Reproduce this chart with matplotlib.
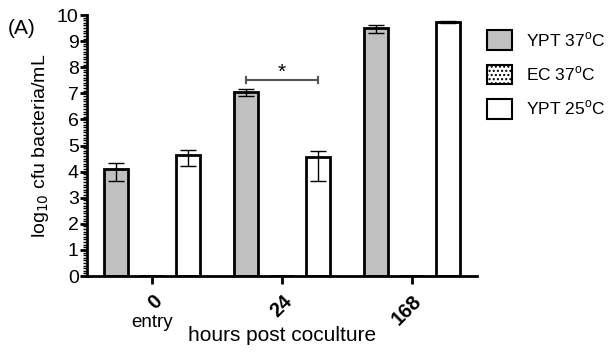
import numpy as np
import matplotlib
matplotlib.use("Agg")
import matplotlib.pyplot as plt
from matplotlib.patches import Patch
from matplotlib.ticker import MultipleLocator

plt.rcParams['font.family'] = ['Liberation Sans', 'DejaVu Sans']

# data
hours = ['0', '24', '168']
series = ['YPT 37$^{\\mathregular{o}}$C', 'EC 37$^{\\mathregular{o}}$C', 'YPT 25$^{\\mathregular{o}}$C']
ypt37 = [4.10, 7.06, 9.49]
ypt37_lo = [0.45, 0.16, 0.16]
ypt37_hi = [0.23, 0.09, 0.14]
ec37 = [0, 0, 0]
ypt25 = [4.64, 4.55, 9.74]
ypt25_lo = [0.43, 0.91, 0.04]
ypt25_hi = [0.19, 0.25, 0.04]

fig = plt.figure(figsize=(6.11, 3.55), dpi=100)
ax = fig.add_axes([0.1424, 0.2225, 0.6386, 0.7352])

x = np.arange(len(hours))
w = 0.185
err_kw = dict(ecolor='black', capsize=6, elinewidth=1.0, capthick=1.0)
ax.bar(x - 0.277, ypt37, w, color='#c0c0c0', edgecolor='black', linewidth=2,
       yerr=[ypt37_lo, ypt37_hi], error_kw=err_kw, zorder=2)
ax.bar(x, ec37, w, color='white', edgecolor='black', hatch='....', linewidth=2, zorder=2)
ax.bar(x + 0.277, ypt25, w, color='white', edgecolor='black', linewidth=2,
       yerr=[ypt25_lo, ypt25_hi], error_kw=err_kw, zorder=2)

# significance bracket
ax.plot([1 - 0.277, 1 + 0.277], [7.5, 7.5], color='#555555', lw=1.5)
ax.plot([1 - 0.277, 1 - 0.277], [7.38, 7.62], color='#555555', lw=1.5)
ax.plot([1 + 0.277, 1 + 0.277], [7.38, 7.62], color='#555555', lw=1.5)
ax.text(1, 7.45, '*', ha='center', va='bottom', fontsize=15)

ax.set_xlim(-0.5, 2.5)
ax.set_ylim(0, 10)
ax.yaxis.set_major_locator(MultipleLocator(1))
ax.yaxis.set_minor_locator(MultipleLocator(0.1))
ax.set_xticks(x)
ax.set_xticklabels(hours, rotation=45, fontweight='bold', fontsize=14.5)
for lbl in ax.get_xticklabels():
    lbl.set_rotation_mode('anchor')
    lbl.set_ha('right')
    lbl.set_va('top')
ax.tick_params(axis='y', which='major', length=5, width=2, labelsize=14, pad=1)
ax.tick_params(axis='y', which='minor', length=3, width=1)
ax.tick_params(axis='x', length=6, width=2, pad=5)
for s in ['top', 'right']:
    ax.spines[s].set_visible(False)
for s in ['left', 'bottom']:
    ax.spines[s].set_linewidth(2)

ax.set_ylabel('log$_{10}$ cfu bacteria/mL', fontsize=14, labelpad=4)
ax.set_xlabel('hours post coculture', fontsize=15, labelpad=-2)
ax.text(0, -1.78, 'entry', ha='center', va='center', fontsize=13.5)
fig.text(0.013, 0.905, '(A)', fontsize=15)

handles = [Patch(facecolor='#c0c0c0', edgecolor='black', linewidth=1.5),
           Patch(facecolor='white', edgecolor='black', hatch='....', linewidth=1.5),
           Patch(facecolor='white', edgecolor='black', linewidth=1.5)]
fig.legend(handles, series, loc='upper left', bbox_to_anchor=(0.797, 0.915),
           frameon=False, fontsize=12.5, handlelength=1.44, handleheight=1.35,
           labelspacing=0.85, handletextpad=0.8, borderpad=0, borderaxespad=0)

fig.savefig('out.png', dpi=100)
